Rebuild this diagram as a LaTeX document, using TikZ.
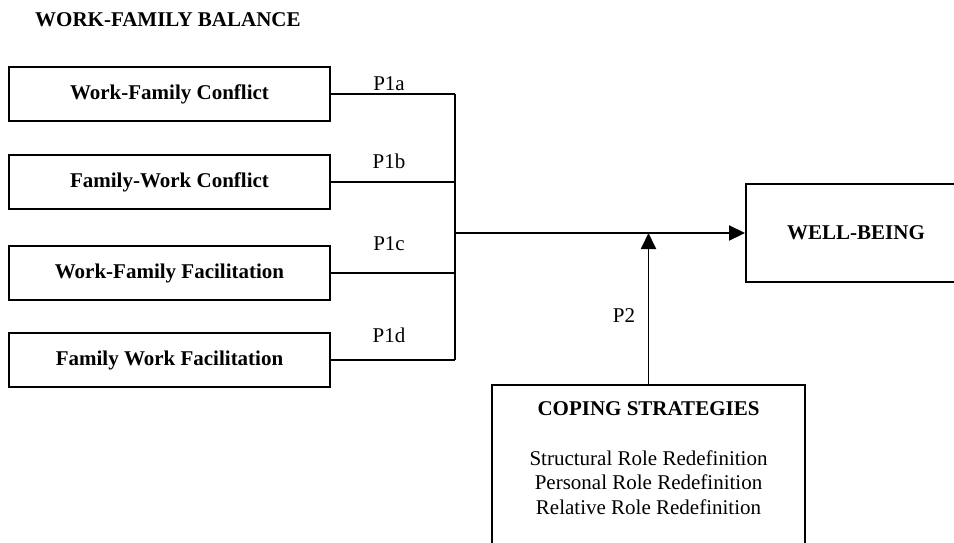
\documentclass[tikz,border=0pt]{standalone}
\usepackage{fontspec}
\setmainfont{Liberation Serif}
\usetikzlibrary{arrows.meta}
\begin{document}
\begin{tikzpicture}[x=1pt,y=-1pt,
  box/.style={draw,line width=1.9pt,rectangle,inner sep=0pt,font=\fontsize{21}{24}\selectfont\bfseries},
  lbl/.style={anchor=base,inner sep=0pt,font=\fontsize{21}{24}\selectfont},
  conn/.style={line width=1.9pt},
  arr/.style={line width=1.9pt,-{Triangle[length=16pt,width=15pt]}}]
\useasboundingbox (0,0) rectangle (954,542);
\node[anchor=base west,inner sep=0pt,font=\fontsize{21}{24}\selectfont\bfseries] (title) at (35,26) {WORK-FAMILY BALANCE};
\node[box,minimum width=321pt,minimum height=54pt] (b1) at (169.5,94) {Work-Family Conflict};
\node[box,minimum width=321pt,minimum height=54pt] (b2) at (169.5,182) {Family-Work Conflict};
\node[box,minimum width=321pt,minimum height=54pt] (b3) at (169.5,273) {Work-Family Facilitation};
\node[box,minimum width=321pt,minimum height=54pt] (b4) at (169.5,360) {Family Work Facilitation};
\node[box,minimum width=220pt,minimum height=98pt] (wb) at (856,233) {WELL-BEING};
\node[box,minimum width=313pt,minimum height=180pt,anchor=north] (cs) at (648.5,384) {};
\node[lbl,font=\fontsize{21}{24}\selectfont\bfseries] (cst) at (648.5,415) {COPING STRATEGIES};
\node[lbl] (cs1) at (648.5,465) {Structural Role Redefinition};
\node[lbl] (cs2) at (648.5,489) {Personal Role Redefinition};
\node[lbl] (cs3) at (648.5,514) {Relative Role Redefinition};
\coordinate (j) at (455,233);
\draw[conn] (b1.east) -- (b1.east -| j);
\draw[conn] (b2.east) -- (b2.east -| j);
\draw[conn] (b3.east) -- (b3.east -| j);
\draw[conn] (b4.east) -- (b4.east -| j);
\draw[conn] (b1.east -| j) -- (b4.east -| j);
\draw[arr] (j) -- (wb.west);
\draw[arr] (cs.north) -- (cs.north |- j);
\node[lbl] (p1a) at (389,90) {P1a};
\node[lbl] (p1b) at (389,168) {P1b};
\node[lbl] (p1c) at (389,250) {P1c};
\node[lbl] (p1d) at (389,342) {P1d};
\node[lbl] (p2) at (624,322) {P2};
\end{tikzpicture}
\end{document}
